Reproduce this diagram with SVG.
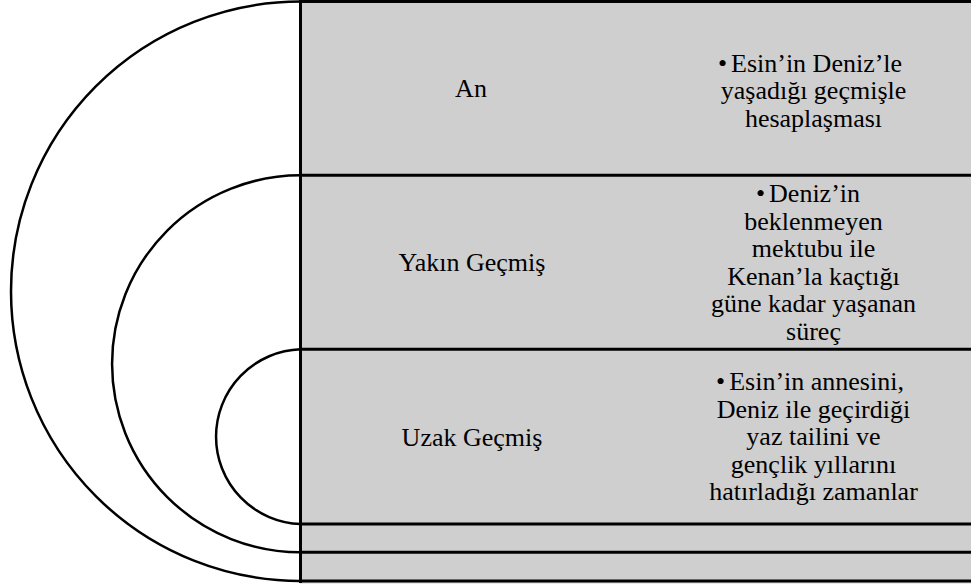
<svg xmlns="http://www.w3.org/2000/svg" width="971" height="587" viewBox="0 0 971 587">
<style>
.t{font-family:"Liberation Serif","Times New Roman",serif;font-size:26px;fill:#000;text-anchor:middle}
.ln{stroke:#000;stroke-width:3;fill:none}
.arc{stroke:#000;stroke-width:2.5;fill:none}
.bg{fill:#cfcfcf}
</style>
<rect width="971" height="587" fill="#fff"/>
<rect class="bg" x="300" y="1.5" width="671" height="582"/>
<g id="row-an">
<text class="t" x="471" y="97">An</text>
<text class="t" x="810" y="71.5">•<tspan dx="4">Esin’in Deniz’le</tspan></text>
<text class="t" x="813.5" y="99">yaşadığı geçmişle</text>
<text class="t" x="813.5" y="126.5">hesaplaşması</text>
</g>
<g id="row-yakin">
<text class="t" x="472" y="271">Yakın Geçmiş</text>
<text class="t" x="808" y="202">•<tspan dx="4">Deniz’in</tspan></text>
<text class="t" x="813.5" y="229.5">beklenmeyen</text>
<text class="t" x="813.5" y="257">mektubu ile</text>
<text class="t" x="813.5" y="284.5">Kenan’la kaçtığı</text>
<text class="t" x="813.5" y="312">güne kadar yaşanan</text>
<text class="t" x="813.5" y="339.5">süreç</text>
</g>
<g id="row-uzak">
<text class="t" x="472" y="445.5">Uzak Geçmiş</text>
<text class="t" x="810" y="390">•<tspan dx="4">Esin’in annesini,</tspan></text>
<text class="t" x="813.5" y="417.5">Deniz ile geçirdiği</text>
<text class="t" x="813.5" y="445">yaz tailini ve</text>
<text class="t" x="813.5" y="472.5">gençlik yıllarını</text>
<text class="t" x="813.5" y="500">hatırladığı zamanlar</text>
</g>
<g id="connectors">
<path class="arc" d="M300.5 1.5 A289.5 289.75 0 0 0 300.5 581"/>
<path class="arc" d="M300.5 175.3 A188.5 188.5 0 0 0 300.5 552.3"/>
<path class="arc" d="M300.5 349.3 A87.4 87.4 0 0 0 300.5 524"/>
<line class="ln" x1="300.5" y1="0" x2="300.5" y2="583"/>
<line class="ln" x1="299" y1="1.5" x2="971" y2="1.5"/>
<line class="ln" x1="299" y1="175.3" x2="971" y2="175.3"/>
<line class="ln" x1="299" y1="349.3" x2="971" y2="349.3"/>
<line class="ln" x1="299" y1="524" x2="971" y2="524"/>
<line class="ln" x1="299" y1="552.3" x2="971" y2="552.3"/>
<line class="ln" x1="299" y1="581" x2="971" y2="581"/>
</g>
</svg>
